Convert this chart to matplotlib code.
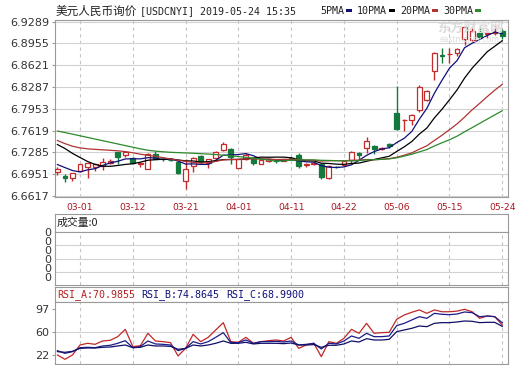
import matplotlib
matplotlib.use('Agg')
import matplotlib.pyplot as plt
from matplotlib.patches import Rectangle
import numpy as np

# trading days shown (MM-DD)
dates = ['02-26', '02-27', '02-28', '03-01', '03-04', '03-05', '03-06', '03-07', '03-08', '03-11',
         '03-12', '03-13', '03-14', '03-15', '03-18', '03-19', '03-20', '03-21', '03-22', '03-25',
         '03-26', '03-27', '03-28', '03-29', '04-01', '04-02', '04-03', '04-04', '04-08', '04-09',
         '04-10', '04-11', '04-12', '04-15', '04-16', '04-17', '04-18', '04-19', '04-22', '04-23',
         '04-24', '04-25', '04-26', '04-29', '04-30', '05-06', '05-07', '05-08', '05-09', '05-10',
         '05-13', '05-14', '05-15', '05-16', '05-17', '05-20', '05-21', '05-22', '05-23', '05-24']

opens = [6.6978, 6.6925, 6.6887, 6.6999, 6.7066, 6.7066, 6.7073, 6.7116, 6.7284, 6.7245,
         6.7193, 6.7110, 6.7036, 6.7254, 6.7190, 6.7175, 6.7143, 6.6846, 6.7075, 6.7232,
         6.7116, 6.7200, 6.7315, 6.7330, 6.7052, 6.7185, 6.7177, 6.7112, 6.7158, 6.7165,
         6.7160, 6.7195, 6.7243, 6.7090, 6.7111, 6.7105, 6.6898, 6.7065, 6.7085, 6.7162,
         6.7279, 6.7356, 6.7390, 6.7340, 6.7410, 6.7889, 6.7775, 6.7788, 6.7940, 6.8093,
         6.8526, 6.8785, 6.8790, 6.8806, 6.9020, 6.9010, 6.9121, 6.9102, 6.9121, 6.9147]
highs = [6.7055, 6.6949, 6.6972, 6.7110, 6.7130, 6.7130, 6.7200, 6.7190, 6.7290, 6.7300,
         6.7210, 6.7140, 6.7280, 6.7300, 6.7210, 6.7190, 6.7160, 6.7180, 6.7210, 6.7240,
         6.7190, 6.7300, 6.7440, 6.7350, 6.7190, 6.7270, 6.7190, 6.7180, 6.7200, 6.7180,
         6.7190, 6.7210, 6.7270, 6.7130, 6.7140, 6.7120, 6.7090, 6.7080, 6.7160, 6.7300,
         6.7285, 6.7524, 6.7400, 6.7370, 6.7430, 6.8306, 6.7790, 6.7880, 6.8320, 6.8240,
         6.8830, 6.8880, 6.8880, 6.8890, 6.9210, 6.9190, 6.9213, 6.9170, 6.9239, 6.9170]
lows = [6.6933, 6.6827, 6.6840, 6.6980, 6.6900, 6.7000, 6.7020, 6.7100, 6.7100, 6.7220,
        6.7110, 6.7060, 6.7030, 6.7180, 6.7160, 6.7150, 6.6950, 6.6720, 6.6990, 6.7120,
        6.7040, 6.7190, 6.7300, 6.7100, 6.7040, 6.7170, 6.7090, 6.7100, 6.7140, 6.7130,
        6.7150, 6.7180, 6.7040, 6.7060, 6.7090, 6.6880, 6.6880, 6.7040, 6.7070, 6.7120,
        6.7190, 6.7280, 6.7260, 6.7320, 6.7350, 6.7630, 6.7610, 6.7700, 6.7910, 6.8070,
        6.8400, 6.8650, 6.8650, 6.8770, 6.8930, 6.8990, 6.9030, 6.9040, 6.9080, 6.9030]
closes = [6.7024, 6.6887, 6.6963, 6.7100, 6.7116, 6.7112, 6.7140, 6.7157, 6.7220, 6.7294,
          6.7128, 6.7130, 6.7254, 6.7189, 6.7180, 6.7170, 6.6974, 6.7024, 6.7197, 6.7138,
          6.7177, 6.7285, 6.7417, 6.7208, 6.7177, 6.7250, 6.7120, 6.7162, 6.7180, 6.7155,
          6.7180, 6.7190, 6.7075, 6.7105, 6.7130, 6.6905, 6.7073, 6.7055, 6.7150, 6.7290,
          6.7250, 6.7457, 6.7340, 6.7355, 6.7385, 6.7645, 6.7785, 6.7864, 6.8290, 6.8220,
          6.8807, 6.8770, 6.8800, 6.8867, 6.9204, 6.9152, 6.9050, 6.9115, 6.9135, 6.9075]

ma5 = [6.7099, 6.7053, 6.7007, 6.6986, 6.7018, 6.7036, 6.7086, 6.7125, 6.7149, 6.7185,
       6.7188, 6.7186, 6.7205, 6.7199, 6.7176, 6.7185, 6.7153, 6.7107, 6.7109, 6.7101,
       6.7102, 6.7164, 6.7243, 6.7245, 6.7253, 6.7267, 6.7234, 6.7183, 6.7178, 6.7173,
       6.7159, 6.7173, 6.7156, 6.7141, 6.7136, 6.7081, 6.7058, 6.7054, 6.7063, 6.7095,
       6.7164, 6.7240, 6.7297, 6.7338, 6.7357, 6.7436, 6.7502, 6.7607, 6.7794, 6.7961,
       6.8193, 6.8390, 6.8577, 6.8693, 6.8890, 6.8959, 6.9015, 6.9078, 6.9131, 6.9105]
ma10 = [6.7406, 6.7345, 6.7270, 6.7207, 6.7146, 6.7100, 6.7075, 6.7072, 6.7085, 6.7101,
        6.7112, 6.7136, 6.7165, 6.7174, 6.7180, 6.7186, 6.7170, 6.7156, 6.7154, 6.7138,
        6.7143, 6.7159, 6.7175, 6.7177, 6.7177, 6.7185, 6.7199, 6.7213, 6.7211, 6.7213,
        6.7213, 6.7204, 6.7170, 6.7159, 6.7155, 6.7120, 6.7116, 6.7105, 6.7102, 6.7115,
        6.7122, 6.7149, 6.7176, 6.7201, 6.7226, 6.7300, 6.7371, 6.7452, 6.7566, 6.7659,
        6.7815, 6.7946, 6.8092, 6.8243, 6.8425, 6.8576, 6.8702, 6.8828, 6.8912, 6.8998]
ma20 = [6.7468, 6.7420, 6.7380, 6.7355, 6.7340, 6.7332, 6.7325, 6.7318, 6.7310, 6.7298,
        6.7280, 6.7258, 6.7240, 6.7225, 6.7205, 6.7185, 6.7165, 6.7148, 6.7133, 6.7120,
        6.7128, 6.7147, 6.7170, 6.7176, 6.7179, 6.7186, 6.7185, 6.7185, 6.7183, 6.7176,
        6.7178, 6.7181, 6.7172, 6.7168, 6.7166, 6.7152, 6.7157, 6.7159, 6.7157, 6.7164,
        6.7168, 6.7176, 6.7173, 6.7180, 6.7190, 6.7210, 6.7243, 6.7278, 6.7334, 6.7387,
        6.7469, 6.7548, 6.7634, 6.7722, 6.7826, 6.7938, 6.8037, 6.8140, 6.8239, 6.8328]
ma30 = [6.7613, 6.7590, 6.7565, 6.7540, 6.7515, 6.7490, 6.7465, 6.7440, 6.7415, 6.7390,
        6.7365, 6.7340, 6.7318, 6.7305, 6.7295, 6.7287, 6.7282, 6.7277, 6.7272, 6.7266,
        6.7260, 6.7252, 6.7243, 6.7233, 6.7222, 6.7210, 6.7197, 6.7183, 6.7168, 6.7151,
        6.7156, 6.7166, 6.7170, 6.7170, 6.7171, 6.7164, 6.7162, 6.7158, 6.7156, 6.7156,
        6.7160, 6.7171, 6.7173, 6.7179, 6.7186, 6.7202, 6.7229, 6.7257, 6.7293, 6.7329,
        6.7384, 6.7433, 6.7479, 6.7534, 6.7602, 6.7665, 6.7730, 6.7795, 6.7860, 6.7924]

rsi_a = [22.0, 14.9, 22.0, 38.4, 41.2, 39.5, 45.0, 46.1, 52.1, 64.1,
         35.7, 37.3, 57.6, 45.0, 43.9, 42.3, 20.4, 32.9, 55.9, 43.9,
         51.0, 63.1, 75.1, 43.9, 42.8, 51.0, 41.2, 43.9, 45.5, 46.6,
         45.0, 51.0, 32.9, 38.4, 41.2, 19.3, 43.9, 41.2, 49.4, 64.1,
         57.6, 74.0, 57.6, 58.7, 59.2, 80.6, 87.7, 92.1, 96.0, 90.4,
         96.0, 93.0, 93.0, 94.0, 97.0, 93.0, 82.2, 86.0, 84.9, 70.9855]
rsi_b = [29.1, 24.7, 27.5, 34.0, 34.6, 34.0, 36.8, 37.9, 41.2, 45.5,
         34.0, 35.7, 45.0, 40.1, 39.5, 38.4, 29.1, 32.9, 43.9, 40.1,
         43.9, 51.0, 58.7, 42.3, 42.3, 46.6, 41.2, 43.9, 43.9, 44.4,
         43.3, 45.0, 38.4, 39.5, 41.2, 31.9, 41.2, 40.1, 45.0, 53.2,
         49.4, 57.6, 52.1, 52.1, 53.2, 70.2, 74.0, 79.5, 84.9, 82.2,
         90.4, 88.8, 88.2, 89.3, 92.6, 91.5, 84.9, 86.0, 84.9, 74.8645]
rsi_c = [27.5, 26.4, 28.0, 32.9, 33.5, 33.5, 34.6, 35.1, 36.8, 38.4,
         34.0, 34.6, 38.4, 36.8, 36.8, 36.2, 31.3, 32.9, 38.4, 36.8,
         38.4, 41.2, 45.0, 41.2, 41.2, 42.8, 40.1, 41.2, 41.2, 41.2,
         40.6, 41.7, 38.4, 38.4, 39.0, 34.6, 37.9, 37.9, 40.1, 45.0,
         43.3, 48.8, 46.6, 46.6, 47.7, 60.3, 63.1, 65.8, 69.6, 68.5,
         74.0, 75.1, 75.1, 76.2, 77.8, 77.3, 75.1, 75.6, 75.6, 68.9900]

price_ticks = [6.6617, 6.6951, 6.7285, 6.7619, 6.7953, 6.8287, 6.8621, 6.8955, 6.9289]
rsi_ticks = [22, 60, 97]
volume_label = '成交量:0'
title_cn = '美元人民币询价'
title_code = '[USDCNYI] 2019-05-24 15:35'
ma_names = ['5PMA', '10PMA', '20PMA', '30PMA']

UP = '#c42b2b'
DOWN = '#15793d'
MA_COLORS = ['#10107a', '#000000', '#b03434', '#2c8a2c']
GRID = '#d2d2d2'
SPINE = '#9a9a9a'
W, H = 520, 365
L, R = 55, 508


def box(top, bottom):
    return [L / W, 1 - bottom / H, (R - L) / W, (bottom - top) / H]


def fx(x):
    return x / W


def fy(y):
    return 1 - y / H


def style(ax):
    for s in ax.spines.values():
        s.set_color(SPINE)
        s.set_linewidth(0.8)


fig = plt.figure(figsize=(W / 100, H / 100), dpi=100)
x = np.arange(len(dates))
xlim = (-0.32, 59.76)
tick_idx = x[3::7]

# ---- price panel
ax = fig.add_axes(box(20, 197))
style(ax)
o = np.array(opens); c = np.array(closes)
up = c >= o
cols = np.where(up, UP, DOWN)
ax.vlines(x, lows, highs, colors=cols, linewidth=1.0, zorder=3)
ax.bar(x, np.maximum(np.abs(c - o), 0.00004), bottom=np.minimum(o, c), width=0.64,
       facecolor=np.where(up, 'white', DOWN), edgecolor=cols, linewidth=0.9, zorder=4)
for ma, col in zip([ma5, ma10, ma20, ma30], MA_COLORS):
    ax.plot(x, ma, color=col, linewidth=0.9, zorder=5)
ax.set_xlim(*xlim)
ax.set_ylim(6.66017, 6.93151)
ax.set_yticks(price_ticks)
ax.set_yticklabels([f'{v:.4f}' for v in price_ticks])
ax.set_xticks(tick_idx)
ax.set_xticklabels([dates[i] for i in tick_idx])
ax.grid(axis='y', color=GRID, linewidth=0.8)
ax.grid(axis='x', color='#c4c4c4', linewidth=0.8, linestyle=(0, (3, 3)))
ax.set_axisbelow(True)
ax.tick_params(axis='y', length=2.5, color=SPINE, labelsize=8, labelcolor='#333333', pad=1.5)
ax.tick_params(axis='x', length=0, labelsize=6.6, labelcolor='#a8141e', pad=4)

# watermark
fig.text(fx(437), fy(28), '东方财富网', family=['Noto Sans CJK SC'], fontsize=9.5,
         color='#dcdcdc', fontweight='bold', va='center', ha='left', zorder=0)
fig.text(fx(440), fy(40), 'eastmoney.com', fontsize=5.5, color='#dcdcdc',
         va='center', ha='left', zorder=0)

# ---- title row
fig.text(fx(56), fy(11), title_cn, family=['Noto Sans CJK SC'], fontsize=8.4,
         color='#222222', va='center', ha='left')
fig.text(fx(140), fy(11), title_code, family='DejaVu Sans Mono', fontsize=7.2,
         color='#222222', va='center', ha='left')
for name, col, tx in zip(ma_names, MA_COLORS, [320, 357, 400, 443]):
    fig.text(fx(tx), fy(10.5), name, family='DejaVu Sans Mono', fontsize=7.2,
             color='#222222', va='center', ha='left')
    sx = tx + 6 * len(name) + 2
    fig.add_artist(Rectangle((fx(sx), fy(12)), 6 / W, 3 / H, transform=fig.transFigure,
                             facecolor=col, edgecolor='none'))

# ---- volume panel
axh = fig.add_axes(box(214, 232))
style(axh)
axh.set_xticks([]); axh.set_yticks([])
axh.text(0.004, 0.5, volume_label, transform=axh.transAxes, family=['Noto Sans CJK SC'],
         fontsize=7.8, color='#222222', va='center', ha='left')

axv = fig.add_axes(box(232, 285))
style(axv)
axv.set_xlim(*xlim)
axv.set_ylim(0, 1)
axv.set_xticks(tick_idx)
axv.set_xticklabels([])
axv.set_yticks([1.0, 0.83, 0.66, 0.49, 0.32, 0.15])
axv.set_yticklabels(['0'] * 6)
axv.grid(axis='x', color='#c4c4c4', linewidth=0.8, linestyle=(0, (3, 3)))
for gy in [0.25, 0.5, 0.75]:
    axv.axhline(gy, color=GRID, linewidth=0.8, zorder=0)
axv.tick_params(axis='x', length=0)
axv.tick_params(axis='y', length=0, labelsize=8, labelcolor='#333333', pad=3)

# ---- RSI panel
axrh = fig.add_axes(box(287, 302))
style(axrh)
axrh.set_xticks([]); axrh.set_yticks([])
for tx, label, val, col in [(57, 'RSI_A', rsi_a[-1], '#b82020'),
                            (141, 'RSI_B', rsi_b[-1], '#10107a'),
                            (226, 'RSI_C', rsi_c[-1], '#10107a')]:
    fig.text(fx(tx), fy(295), f'{label}:{val:.4f}', family='DejaVu Sans Mono', fontsize=7.2,
             color=col, va='center', ha='left')

axr = fig.add_axes(box(302, 364))
style(axr)
axr.plot(x, rsi_a, color='#c02828', linewidth=0.9)
axr.plot(x, rsi_b, color='#1c1c8a', linewidth=0.9)
axr.plot(x, rsi_c, color='#10106a', linewidth=0.9)
axr.set_xlim(*xlim)
axr.set_ylim(7.2, 109)
axr.set_yticks(rsi_ticks)
axr.set_xticks(tick_idx)
axr.set_xticklabels([])
axr.grid(axis='x', color='#c4c4c4', linewidth=0.8, linestyle=(0, (3, 3)))
axr.axhline(60, color=GRID, linewidth=0.8, zorder=0)
axr.tick_params(axis='x', length=0)
axr.tick_params(axis='y', length=2.5, color=SPINE, labelsize=8, labelcolor='#333333', pad=1.5)

fig.savefig('out.png', dpi=100, facecolor='white')
